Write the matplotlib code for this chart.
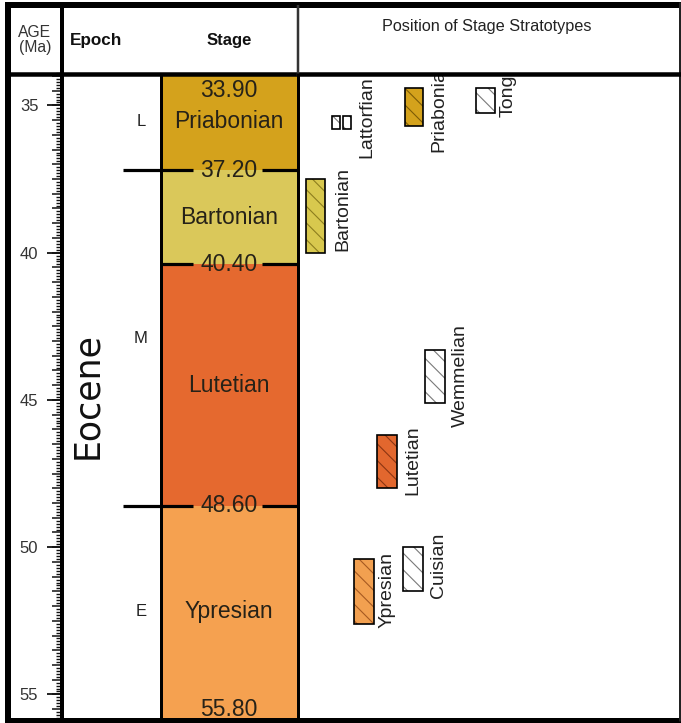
import matplotlib
matplotlib.use("Agg")
import matplotlib.pyplot as plt
from matplotlib.ticker import MultipleLocator, NullFormatter

# ---------------- data ----------------
stage_names = ["Priabonian", "Bartonian", "Lutetian", "Ypresian"]
stage_top = [33.90, 37.20, 40.40, 48.60]
stage_base = [37.20, 40.40, 48.60, 55.80]
stage_colors = ["#d4a21c", "#dac85a", "#e5692f", "#f5a150"]

boundary_ages = [33.90, 37.20, 40.40, 48.60, 55.80]
boundary_labels = ["33.90", "37.20", "40.40", "48.60", "55.80"]
epoch_boundaries = [37.20, 48.60]

epoch_name = "Eocene"
subepoch_names = ["L", "M", "E"]
subepoch_top = [33.90, 37.20, 48.60]
subepoch_base = [37.20, 48.60, 55.80]

age_ticks = [35, 40, 45, 50, 55]

strat_names = ["Bartonian", "Lattorfian", "Priabonian", "Tongrian",
               "Wemmelian", "Lutetian", "Cuisian", "Ypresian"]
strat_top = [37.5, 35.35, 34.4, 34.4, 43.3, 46.2, 50.0, 50.4]
strat_base = [40.0, 35.8, 35.7, 35.25, 45.1, 48.0, 51.5, 52.6]

# ---------------- layout / style ----------------
W, H = 681, 723
TOP_PX, BOT_PX = 73, 718
plt.rcParams['font.family'] = ['Liberation Sans', 'DejaVu Sans']
plt.rcParams['hatch.linewidth'] = 0.8

strat_fill = {"Bartonian": "#d8c84e", "Lattorfian": "white", "Priabonian": "#d4a21c",
              "Tongrian": "white", "Wemmelian": "white", "Lutetian": "#e2672e",
              "Cuisian": "white", "Ypresian": "#f2a050"}
strat_hatch_col = {"Bartonian": "#8c7d1e", "Lattorfian": "#7a7a7a", "Priabonian": "#7d5c06",
                   "Tongrian": "#7a7a7a", "Wemmelian": "#7a7a7a", "Lutetian": "#8c3512",
                   "Cuisian": "#7a7a7a", "Ypresian": "#a65a22"}
strat_x = {"Bartonian": [315.5], "Lattorfian": [335.5, 346.5], "Priabonian": [414],
           "Tongrian": [485], "Wemmelian": [435], "Lutetian": [387],
           "Cuisian": [413], "Ypresian": [364]}
strat_w = {"Bartonian": 19, "Lattorfian": 8, "Priabonian": 18, "Tongrian": 19,
           "Wemmelian": 20, "Lutetian": 20, "Cuisian": 20, "Ypresian": 20}
# label (x centre in px, age where the upward text starts)
label_pos = {"Bartonian": (342.5, 39.95), "Lattorfian": (366.5, 36.79),
             "Priabonian": (438.5, 36.58), "Tongrian": (508.5, 35.39),
             "Wemmelian": (460.5, 45.92), "Lutetian": (412.5, 48.23),
             "Cuisian": (438.5, 51.73), "Ypresian": (387.5, 52.75)}

fig = plt.figure(figsize=(W / 100, H / 100), dpi=100)
fig.patch.set_facecolor("white")

ax = fig.add_axes([0, (H - BOT_PX) / H, 1, (BOT_PX - TOP_PX) / H])
ax.set_xlim(0, W)
ax.set_ylim(stage_base[-1], stage_top[0])
ax.set_facecolor("none")
for s in ax.spines.values():
    s.set_visible(False)
ax.spines['left'].set_position(('data', 62))
ax.xaxis.set_visible(False)

# age scale ticks
ax.yaxis.set_major_locator(MultipleLocator(0.5))
ax.yaxis.set_minor_locator(MultipleLocator(0.1))
ax.yaxis.set_major_formatter(NullFormatter())
ax.tick_params(axis='y', which='major', direction='out', length=7, width=1.1, color='#111')
ax.tick_params(axis='y', which='minor', direction='out', length=4.5, width=1.0, color='#111')

sec = ax.secondary_yaxis(62 / W)
sec.set_yticks(age_ticks)
sec.set_yticklabels([str(a) for a in age_ticks])
sec.tick_params(axis='y', which='major', direction='out', length=11, width=1.3,
                color='#111', labelsize=12, labelcolor='#333', pad=6)
sec.tick_params(axis='y', which='minor', length=0)
for s in sec.spines.values():
    s.set_visible(False)

# stage column
ax.bar([229] * len(stage_names), [b - t for t, b in zip(stage_top, stage_base)],
       bottom=stage_top, width=137, color=stage_colors, edgecolor='none', zorder=1)
for name, t, b in zip(stage_names, stage_top, stage_base):
    ax.text(229, (t + b) / 2, name, ha='center', va='center', fontsize=16.5,
            color='#262218', zorder=3)

# boundaries
for age, lab in zip(boundary_ages, boundary_labels):
    if age == boundary_ages[0]:
        ax.text(229, age + 0.22, lab, ha='center', va='top', fontsize=16.5,
                color='#262218', zorder=3)
    elif age == boundary_ages[-1]:
        ax.text(229, age - 0.07, lab, ha='center', va='baseline', fontsize=16.5,
                color='#262218', zorder=3)
    else:
        x0 = 123 if age in epoch_boundaries else 161
        ax.hlines(age, x0, 193, color='black', lw=2.3, zorder=2)
        ax.hlines(age, 262, 297, color='black', lw=2.3, zorder=2)
        ax.text(229, age, lab, ha='center', va='center', fontsize=16.5,
                color='#262218', zorder=3)

# epoch text
ax.text(87, (stage_top[0] + stage_base[-1]) / 2, epoch_name, rotation=90,
        ha='center', va='center', fontsize=25, family='DejaVu Sans', color='#111')
for n, t, b in zip(subepoch_names, subepoch_top, subepoch_base):
    ax.text(141, (t + b) / 2, n, ha='center', va='center', fontsize=12, color='#222')

# stratotype positions
for name, t, b in zip(strat_names, strat_top, strat_base):
    xs = strat_x[name]
    w = strat_w[name]
    ax.bar(xs, [b - t] * len(xs), bottom=[t] * len(xs), width=w,
           color=strat_fill[name], edgecolor=strat_hatch_col[name], lw=0,
           hatch='\\\\', zorder=2)
    ax.bar(xs, [b - t] * len(xs), bottom=[t] * len(xs), width=w,
           fill=False, edgecolor='black', lw=1.2, zorder=3)
    lx, ly = label_pos[name]
    ax.text(lx, ly, name, rotation=90, ha='center', va='bottom', fontsize=14,
            color='#222', clip_on=True, zorder=3)

# ---------------- frame & header ----------------
fr = fig.add_axes([0, 0, 1, 1])
fr.set_xlim(0, W)
fr.set_ylim(H, 0)
fr.axis('off')
fr.set_facecolor('none')
k = 0.72  # px -> pt
fr.hlines(5, 5, W, color='black', lw=6 * k)
fr.vlines(8, 2, H, color='black', lw=6 * k)
fr.hlines(720, 5, W, color='black', lw=5 * k)
fr.vlines(679.5, 2, 721, color='#222', lw=3 * k)
fr.hlines(73.5, 5, W, color='black', lw=4.5 * k)
fr.vlines(62, 5, 721, color='black', lw=4 * k)
fr.vlines(298, 5, 76, color='#333', lw=2.5 * k)
fr.vlines(298, 73, 721, color='black', lw=3 * k)
fr.vlines(161, 73, 721, color='black', lw=3 * k)

fr.text(35, 40, "AGE\n(Ma)", ha='center', va='center', fontsize=11.3,
        color='#333', linespacing=1.05)
fr.text(96, 40, "Epoch", ha='center', va='center', fontsize=12.3,
        fontweight='bold', color='#111')
fr.text(229, 40, "Stage", ha='center', va='center', fontsize=12,
        fontweight='bold', color='#111')
fr.text(487, 27, "Position of Stage Stratotypes", ha='center', va='center',
        fontsize=11.7, color='#222')

fig.savefig("out.png", dpi=100)
